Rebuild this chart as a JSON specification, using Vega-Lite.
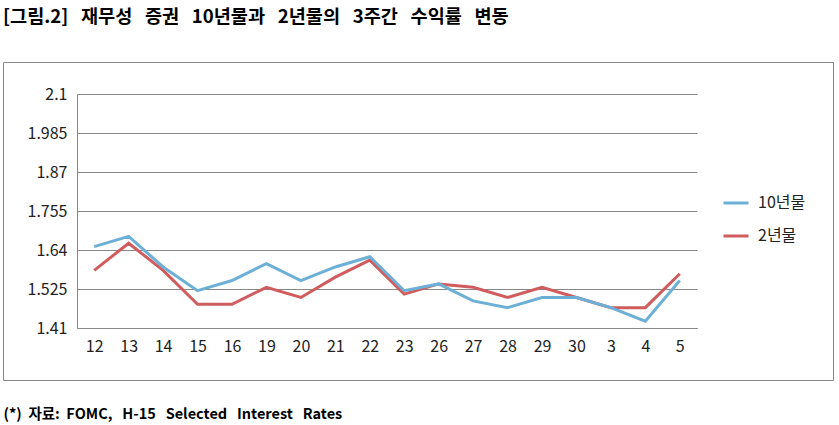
{
  "$schema": "https://vega.github.io/schema/vega-lite/v6.json",
  "width": 830,
  "height": 318,
  "autosize": {"type": "none"},
  "padding": {"left": 3, "top": 62, "right": 6, "bottom": 45},
  "background": "white",
  "title": {
    "text": "[그림.2]\u00a0\u00a0\u00a0재무성\u00a0\u00a0\u00a0증권\u00a0\u00a0\u00a010년물과\u00a0\u00a0\u00a02년물의\u00a0\u00a0\u00a03주간\u00a0\u00a0\u00a0수익률\u00a0\u00a0\u00a0변동",
    "anchor": "start",
    "frame": "group",
    "font": "Noto Sans CJK KR",
    "fontSize": 18.6,
    "fontWeight": "bold",
    "color": "#000000",
    "offset": 35
  },
  "config": {
    "view": {"stroke": "#888888", "strokeWidth": 1},
    "font": "Noto Sans CJK KR"
  },
  "data": {
    "values": [
      {"day": "12", "series": "10년물", "value": 1.65},
      {"day": "13", "series": "10년물", "value": 1.68},
      {"day": "14", "series": "10년물", "value": 1.59},
      {"day": "15", "series": "10년물", "value": 1.52},
      {"day": "16", "series": "10년물", "value": 1.55},
      {"day": "19", "series": "10년물", "value": 1.60},
      {"day": "20", "series": "10년물", "value": 1.55},
      {"day": "21", "series": "10년물", "value": 1.59},
      {"day": "22", "series": "10년물", "value": 1.62},
      {"day": "23", "series": "10년물", "value": 1.52},
      {"day": "26", "series": "10년물", "value": 1.54},
      {"day": "27", "series": "10년물", "value": 1.49},
      {"day": "28", "series": "10년물", "value": 1.47},
      {"day": "29", "series": "10년물", "value": 1.50},
      {"day": "30", "series": "10년물", "value": 1.50},
      {"day": "3", "series": "10년물", "value": 1.47},
      {"day": "4", "series": "10년물", "value": 1.43},
      {"day": "5", "series": "10년물", "value": 1.55},
      {"day": "12", "series": "2년물", "value": 1.58},
      {"day": "13", "series": "2년물", "value": 1.66},
      {"day": "14", "series": "2년물", "value": 1.58},
      {"day": "15", "series": "2년물", "value": 1.48},
      {"day": "16", "series": "2년물", "value": 1.48},
      {"day": "19", "series": "2년물", "value": 1.53},
      {"day": "20", "series": "2년물", "value": 1.50},
      {"day": "21", "series": "2년물", "value": 1.56},
      {"day": "22", "series": "2년물", "value": 1.61},
      {"day": "23", "series": "2년물", "value": 1.51},
      {"day": "26", "series": "2년물", "value": 1.54},
      {"day": "27", "series": "2년물", "value": 1.53},
      {"day": "28", "series": "2년물", "value": 1.50},
      {"day": "29", "series": "2년물", "value": 1.53},
      {"day": "30", "series": "2년물", "value": 1.50},
      {"day": "3", "series": "2년물", "value": 1.47},
      {"day": "4", "series": "2년물", "value": 1.47},
      {"day": "5", "series": "2년물", "value": 1.57}
    ]
  },
  "encoding": {
    "x": {
      "field": "day",
      "type": "ordinal",
      "sort": ["12", "13", "14", "15", "16", "19", "20", "21", "22", "23", "26", "27", "28", "29", "30", "3", "4", "5"],
      "scale": {"type": "point", "padding": 0.5, "range": [74, 694]},
      "axis": {
        "orient": "bottom",
        "offset": -52,
        "labelAngle": 0,
        "ticks": false,
        "grid": false,
        "domainColor": "#888888",
        "labelFontSize": 16,
        "labelPadding": 10,
        "labelColor": "#222222",
        "title": "(*)\u00a0\u00a0자료:\u00a0\u00a0FOMC,\u00a0\u00a0\u00a0H-15\u00a0\u00a0\u00a0Selected\u00a0\u00a0\u00a0Interest\u00a0\u00a0\u00a0Rates",
        "titleX": 0,
        "titleY": 90,
        "titleAnchor": "start",
        "titleAlign": "left",
        "titleBaseline": "alphabetic",
        "titleFontSize": 14.5,
        "titleFontWeight": "bold",
        "titleColor": "#000000"
      }
    },
    "y": {
      "field": "value",
      "type": "quantitative",
      "scale": {"domain": [1.41, 2.1], "nice": false, "zero": false, "range": [266, 32]},
      "axis": {
        "offset": -74,
        "values": [1.41, 1.525, 1.64, 1.755, 1.87, 1.985, 2.1],
        "format": ".4~g",
        "title": null,
        "ticks": false,
        "domainColor": "#888888",
        "gridColor": "#888888",
        "gridOpacity": 1,
        "labelPadding": 10,
        "labelFontSize": 16,
        "labelColor": "#222222"
      }
    },
    "color": {
      "field": "series",
      "type": "nominal",
      "scale": {"domain": ["10년물", "2년물"], "range": ["#6CB0D6", "#D05C5E"]},
      "legend": {
        "orient": "none",
        "legendX": 719,
        "legendY": 127,
        "title": null,
        "symbolType": "stroke",
        "symbolSize": 625,
        "symbolStrokeWidth": 3,
        "labelFontSize": 16,
        "labelColor": "#222222",
        "rowPadding": 11,
        "labelOffset": 8
      }
    }
  },
  "layer": [
    {
      "transform": [{"filter": "datum.series == '2년물'"}],
      "mark": {"type": "line", "strokeWidth": 3}
    },
    {
      "transform": [{"filter": "datum.series == '10년물'"}],
      "mark": {"type": "line", "strokeWidth": 3}
    }
  ]
}
